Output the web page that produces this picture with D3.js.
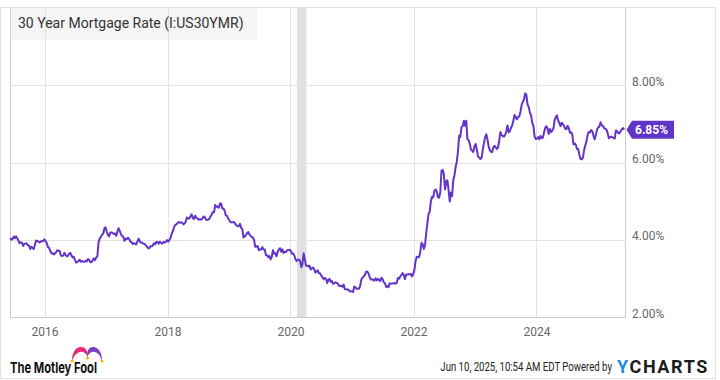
<!DOCTYPE html>
<html><head><meta charset="utf-8">
<script src="https://cdn.jsdelivr.net/npm/d3@7"></script>
<style>
html,body{margin:0;padding:0;background:#fff;}
svg{display:block;font-family:Roboto,"Open Sans",sans-serif;}
</style></head>
<body><svg id="chart" width="720" height="380"></svg>
<script>
// ---------- DATA (weekly 30-year mortgage rate, %) ----------
const title = "30 Year Mortgage Rate (I:US30YMR)";
const yearStarts = ["2015-06-11","2016-01-07","2017-01-05","2018-01-04","2019-01-03","2020-01-02","2021-01-07","2022-01-06","2023-01-05","2024-01-04","2025-01-02"];
const rates2015 = [4.04,4.00,4.02,4.08,4.04,4.09,4.04,3.98,3.91,3.93,3.93,3.84,3.89,3.90,3.91,3.86,3.85,3.76,3.82,3.79,3.76,3.87,3.98,3.97,3.95,3.93,3.95,3.97,3.96,4.01];
const rates2016 = [3.97,3.92,3.81,3.79,3.72,3.65,3.65,3.62,3.64,3.68,3.73,3.71,3.71,3.59,3.58,3.59,3.66,3.61,3.57,3.58,3.64,3.66,3.60,3.54,3.56,3.48,3.41,3.42,3.45,3.48,3.43,3.45,3.43,3.43,3.46,3.44,3.50,3.48,3.42,3.42,3.47,3.52,3.47,3.54,3.57,3.94,4.03,4.08,4.13,4.16,4.30,4.32];
const rates2017 = [4.20,4.12,4.09,4.19,4.19,4.17,4.15,4.16,4.10,4.21,4.30,4.23,4.14,4.10,4.08,3.97,4.03,4.02,4.05,4.02,3.95,3.94,3.89,3.91,3.90,3.88,3.96,4.03,3.96,3.92,3.93,3.90,3.89,3.86,3.82,3.78,3.78,3.83,3.83,3.85,3.91,3.88,3.94,3.94,3.90,3.95,3.92,3.90,3.94,3.93,3.94,3.99];
const rates2018 = [3.95,3.99,4.04,4.15,4.22,4.32,4.38,4.40,4.43,4.46,4.44,4.45,4.44,4.40,4.42,4.47,4.58,4.55,4.55,4.61,4.66,4.56,4.54,4.62,4.57,4.55,4.52,4.53,4.52,4.54,4.60,4.59,4.53,4.51,4.52,4.54,4.60,4.65,4.72,4.71,4.90,4.85,4.86,4.83,4.94,4.94,4.81,4.81,4.75,4.63,4.62,4.55];
const rates2019 = [4.51,4.45,4.45,4.45,4.46,4.41,4.37,4.35,4.35,4.41,4.31,4.28,4.06,4.08,4.12,4.17,4.20,4.14,4.10,4.07,4.06,3.99,3.82,3.82,3.84,3.73,3.75,3.75,3.81,3.75,3.75,3.60,3.60,3.55,3.58,3.49,3.56,3.73,3.64,3.65,3.57,3.69,3.75,3.78,3.69,3.75,3.66,3.68,3.68,3.73,3.73,3.74];
const rates2020 = [3.72,3.64,3.65,3.60,3.51,3.45,3.47,3.49,3.45,3.29,3.36,3.65,3.50,3.33,3.33,3.31,3.33,3.23,3.26,3.28,3.24,3.15,3.18,3.21,3.13,3.13,3.07,3.03,2.98,3.01,2.99,2.88,2.96,2.99,2.91,2.93,2.86,2.87,2.90,2.88,2.87,2.81,2.80,2.81,2.78,2.84,2.72,2.72,2.71,2.71,2.67,2.66,2.67];
const rates2021 = [2.65,2.79,2.77,2.73,2.73,2.73,2.81,2.97,3.02,3.05,3.09,3.17,3.18,3.13,3.04,2.97,2.98,2.96,2.94,3.00,2.95,2.99,2.96,2.93,3.02,2.98,2.90,2.88,2.78,2.80,2.77,2.87,2.86,2.87,2.87,2.88,2.86,2.88,3.01,2.99,3.05,3.09,3.14,3.09,2.98,3.10,3.10,3.11,3.10,3.12,3.05,3.11];
const rates2022 = [3.22,3.45,3.56,3.55,3.55,3.69,3.92,3.89,3.76,3.85,4.16,4.42,4.67,4.72,5.00,5.11,5.10,5.27,5.30,5.25,5.10,5.09,5.23,5.78,5.81,5.70,5.30,5.51,5.54,5.30,4.99,5.22,5.13,5.55,5.66,5.89,6.02,6.29,6.70,6.66,6.92,6.94,7.08,6.95,7.08,6.61,6.58,6.49,6.33,6.31,6.27,6.42];
const rates2023 = [6.48,6.33,6.15,6.13,6.09,6.12,6.32,6.50,6.65,6.73,6.60,6.42,6.32,6.28,6.27,6.39,6.43,6.39,6.35,6.39,6.57,6.79,6.71,6.69,6.67,6.71,6.81,6.96,6.78,6.81,6.90,6.96,7.09,7.23,7.18,7.12,7.18,7.19,7.31,7.49,7.57,7.63,7.79,7.76,7.50,7.44,7.29,7.22,7.03,6.95,6.67,6.61];
const rates2024 = [6.62,6.66,6.60,6.69,6.63,6.64,6.77,6.90,6.94,6.88,6.74,6.87,6.79,6.82,6.88,7.10,7.17,7.22,7.09,7.02,6.94,7.03,6.99,6.95,6.87,6.86,6.95,6.89,6.77,6.78,6.73,6.47,6.49,6.46,6.35,6.35,6.20,6.09,6.08,6.12,6.32,6.44,6.54,6.72,6.79,6.78,6.84,6.81,6.69,6.60,6.72,6.85];
const rates2025 = [6.91,6.93,7.04,6.96,6.95,6.89,6.87,6.85,6.76,6.63,6.65,6.67,6.65,6.64,6.62,6.83,6.81,6.76,6.76,6.81,6.86,6.89,6.85];
const recession = ["2020-02-08","2020-04-05"];
const xTickLabels = ["2016","2018","2020","2022","2024"];
const yTickValues = [2,4,6,8];
const dateRange = ["2015-06-10","2025-06-10"];
const lastLabel = "6.85%";
const footerStamp = "Jun 10, 2025, 10:54 AM EDT Powered by";

(function(){
// ---------- BUILD SERIES ----------
const parse = d3.timeParse("%Y-%m-%d");
const yearly = [rates2015,rates2016,rates2017,rates2018,rates2019,rates2020,rates2021,rates2022,rates2023,rates2024,rates2025];
const series = [];
yearly.forEach((arr,k)=>{
  const s = parse(yearStarts[k]);
  arr.forEach((v,i)=>series.push({date:d3.timeDay.offset(s,7*i), value:v}));
});

// ---------- LAYOUT ----------
const svg = d3.select("#chart");
const pL=10, pR=625, pT=8, pB=317;
const x = d3.scaleTime().domain(dateRange.map(parse)).range([pL,pR]);
const y = d3.scaleLinear().domain([2,10]).range([pB,pT]);
const purple = "#6334c8", grid="#e3e3e3", frame="#cccccc", txt="#666";

// outer frame
svg.append("rect").attr("x",0.5).attr("y",7.5).attr("width",715).attr("height",371)
  .attr("fill","none").attr("stroke","#e2e2e2");

// recession shading
svg.append("rect").attr("x",x(parse(recession[0]))).attr("y",pT)
  .attr("width",x(parse(recession[1]))-x(parse(recession[0]))).attr("height",pB-pT)
  .attr("fill","#e0e0e0");

// title box
svg.append("rect").attr("x",pL+0.5).attr("y",pT).attr("width",247).attr("height",32).attr("fill","#f5f5f5");

// vertical grid
const xTicks = xTickLabels.map(t=>parse(t+"-01-01"));
svg.append("g").selectAll("line").data(xTicks).join("line")
  .attr("x1",d=>Math.round(x(d))+0.5).attr("x2",d=>Math.round(x(d))+0.5)
  .attr("y1",pT).attr("y2",pB).attr("stroke",grid);
// horizontal grid
svg.append("g").selectAll("line").data(yTickValues.filter(v=>v>2)).join("line")
  .attr("x1",pL).attr("x2",pR).attr("y1",d=>Math.round(y(d))+0.5).attr("y2",d=>Math.round(y(d))+0.5)
  .attr("stroke",grid);

// title text
svg.append("text").attr("x",18).attr("y",28).attr("font-size",14).attr("fill","#333").text(title);

// frame lines
svg.append("line").attr("x1",pL+0.5).attr("x2",pL+0.5).attr("y1",7).attr("y2",pB+0.5).attr("stroke",frame);
svg.append("line").attr("x1",pR+0.5).attr("x2",pR+0.5).attr("y1",7).attr("y2",pB+0.5).attr("stroke",frame);
svg.append("line").attr("x1",pL).attr("x2",pR+1).attr("y1",pB+0.5).attr("y2",pB+0.5).attr("stroke",frame);

// x axis labels
const xAxis = d3.axisBottom(x).tickValues(xTicks).tickFormat(d3.timeFormat("%Y")).tickSize(0).tickPadding(0);
const gx = svg.append("g").attr("transform",`translate(0,${pB+10})`).call(xAxis);
gx.select(".domain").remove();
gx.selectAll("text").attr("font-size",12).attr("fill",txt).attr("font-family","Roboto").attr("dy","0.71em");

// y axis labels (right)
const yAxis = d3.axisRight(y).tickValues(yTickValues).tickFormat(d=>d3.format(".2f")(d)+"%").tickSize(0).tickPadding(0);
const gy = svg.append("g").attr("transform",`translate(632,0)`).call(yAxis);
gy.select(".domain").remove();
gy.selectAll("text").attr("font-size",12).attr("fill",txt).attr("font-family","Roboto").attr("dy","0");

// line
svg.append("path").datum(series).attr("fill","none").attr("stroke",purple).attr("stroke-width",2)
  .attr("stroke-linejoin","round")
  .attr("d",d3.line().x(d=>x(d.date)).y(d=>y(d.value)));

// last value badge
const last = series[series.length-1];
const ly = y(last.value);
svg.append("path").attr("fill",purple)
  .attr("d",`M${pR+1.5},${ly} L${pR+7},${ly-9} L${pR+49},${ly-9} L${pR+49},${ly+9} L${pR+7},${ly+9} Z`);
svg.append("text").attr("x",pR+10).attr("y",ly+4.5).attr("font-size",12).attr("font-weight",700)
  .attr("fill","#fff").text(lastLabel);

// footer: Motley Fool logo
const fool = svg.append("g");
fool.append("path").attr("fill","#e8267a")
  .attr("d","M72,361 C72,352 76,347 81,347 C85,347 88,350 88,357 C86,353 83,351 80,352 C76,353 74,356 72,361 Z");
fool.append("path").attr("fill","#7b3fc8")
  .attr("d","M102,361 C102,352 98,347 93,347 C89,347 87,350 87,357 C89,353 92,351 95,352 C99,353 100,356 102,361 Z");
[[72,361],[87.5,358],[102,361]].forEach(p=>fool.append("circle").attr("cx",p[0]).attr("cy",p[1]).attr("r",1.6).attr("fill","#f2b51c"));
fool.append("text").attr("x",10).attr("y",373).attr("font-size",15).attr("font-weight",700)
  .attr("font-family","Inter, Roboto, sans-serif").attr("fill","#111")
  .attr("textLength",87).attr("lengthAdjust","spacingAndGlyphs").text("The Motley Fool");

// footer: timestamp (condensed by horizontal scale) + YCharts
svg.append("g").attr("transform","translate(612,371) scale(0.8,1)")
  .append("text").attr("x",0).attr("y",0).attr("text-anchor","end").attr("font-size",12).attr("fill","#222")
  .text(footerStamp);
const yc = svg.append("text").attr("x",617).attr("y",373).attr("font-size",18).attr("font-weight",700)
  .attr("letter-spacing",1.6);
yc.append("tspan").attr("fill","#1f8be0").text("Y");
yc.append("tspan").attr("fill","#1c1c1c").text("CHARTS");
})();
</script></body></html>
